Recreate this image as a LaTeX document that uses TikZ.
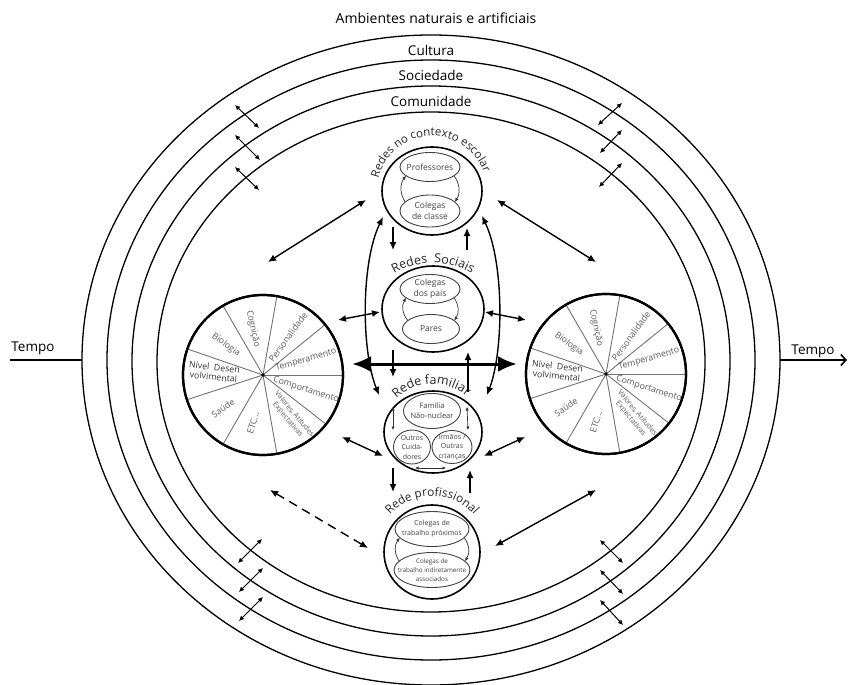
\documentclass[tikz,border=0pt]{standalone}
\usepackage{fontspec}
\setmainfont{Open Sans}
\usetikzlibrary{arrows.meta,shapes.geometric,calc}
\newdimen\arcw
\newcommand{\arcprep}[5]{%
  \gdef\arctot{0}%
  \foreach \ch in {#5}{%
    \settowidth{\arcw}{\fontsize{#4}{#4}\selectfont\ch}%
    \pgfmathsetmacro\arcwn{\the\arcw}%
    \pgfmathsetmacro\arctmp{\arctot+\arcwn}%
    \xdef\arctot{\arctmp}%
  }%
  \gdef\arccum{0}%
  \foreach \ch [count=\i] in {#5}{%
    \settowidth{\arcw}{\fontsize{#4}{#4}\selectfont\ch}%
    \pgfmathsetmacro\arcwn{\the\arcw}%
    \pgfmathsetmacro\arcang{#3 + (\arctot/2 - \arccum - \arcwn/2)/#2*180/pi}%
    \expandafter\xdef\csname arcang-#1-\i\endcsname{\arcang}%
    \pgfmathsetmacro\arctmp{\arccum+\arcwn}%
    \xdef\arccum{\arctmp}%
  }%
}
\newcommand{\arcplace}[5]{%
  \foreach \ch [count=\i] in {#5}{%
    \pgfmathsetmacro\arcang{\csname arcang-#1-\i\endcsname}%
    \node[inner sep=0pt, anchor=base, rotate=\arcang-90, text=black!85, font=\fontsize{#4}{#4}\selectfont] (#1-\i) at ($(#2)+(\arcang:#3pt)$) {\ch};
  }%
}
\begin{document}
\arcprep{lsc}{55}{93}{11.5}{R,e,d,e,s,\ ,n,o,\ ,c,o,n,t,e,x,t,o,\ ,e,s,c,o,l,a,r}%
\arcprep{lso}{77}{90}{12.5}{R,e,d,e,s,\ ,\ ,S,o,c,i,a,i,s}%
\arcprep{lfa}{53}{92}{12.5}{R,e,d,e,\ ,f,a,m,i,l,i,a,r}%
\arcprep{lpr}{56}{90}{11.8}{R,e,d,e,\ ,p,r,o,f,i,s,s,i,o,n,a,l}%
\begin{tikzpicture}[x=1pt,y=-1pt,
  ring/.style={draw, ellipse, line width=1.3pt, inner sep=0pt, outer sep=0pt},
  pie/.style={draw, circle, line width=2.2pt, minimum size=160pt, inner sep=0pt, outer sep=0pt},
  pieline/.style={draw=black!55, line width=0.9pt},
  pielabel/.style={font=\fontsize{8.8}{9.8}\selectfont, text=black!65, align=center, inner sep=0pt},
  hub/.style={draw, ellipse, line width=1.6pt, inner sep=0pt, outer sep=0pt},
  sub/.style={draw=black!75, ellipse, line width=0.9pt, inner sep=0pt, outer sep=0pt},
  sublabel/.style={text=black!75, align=center, inner sep=0pt},
  dbl/.style={{Latex[length=8pt,width=7pt]}-{Latex[length=8pt,width=7pt]}, line width=1.4pt},
  sgl/.style={-{Latex[length=8pt,width=7pt]}, line width=1.4pt},
  tinyarr/.style={{Latex[length=5pt,width=5pt]}-{Latex[length=5pt,width=5pt]}, line width=1pt},
  inarr/.style={-{Latex[length=4pt,width=3.5pt]}, line width=0.7pt, draw=black!80},
  indbl/.style={{Latex[length=3.5pt,width=3.5pt]}-{Latex[length=3.5pt,width=3.5pt]}, line width=0.7pt, draw=black!80},
  ringlabel/.style={font=\fontsize{13.5}{13.5}\selectfont, inner sep=0pt}
]
\useasboundingbox (0,0) rectangle (849,685);

% rings
\node[ring, minimum width=698pt, minimum height=650pt] (e1) at (431,360) {};
\node[ring, minimum width=648pt, minimum height=600pt] (e2) at (431,360) {};
\node[ring, minimum width=598pt, minimum height=550pt] (e3) at (431,361) {};
\node[ring, minimum width=548pt, minimum height=500pt] (e4) at (431,362) {};

\node[font=\fontsize{14}{14}\selectfont, inner sep=0pt] (amb) at (436,18) {Ambientes naturais e artificiais};
\node[ringlabel] (cul) at (431,50) {Cultura};
\node[ringlabel] (soc) at (431,75) {Sociedade};
\node[ringlabel] (com) at (431,101) {Comunidade};

% tempo
\coordinate (tl) at (10,360);
\coordinate (tr) at (847,360);
\draw[line width=1.6pt] (tl) -- (e1.west);
\draw[line width=1.6pt, -{Straight Barb[length=5pt,width=11pt]}] (e1.east) -- (tr);
\node[font=\fontsize{13.5}{13.5}\selectfont, inner sep=0pt] (tpl) at (33,348) {Tempo};
\node[font=\fontsize{13.5}{13.5}\selectfont, inner sep=0pt] (tpr) at (813,351) {Tempo};

% pies
\node[pie] (lp) at (263,375) {};
\node[pie] (rp) at (606,374) {};
\foreach \p in {lp,rp}{
  \foreach \a in {0,39,80,120,161,198,240,280,322}{
    \draw[pieline] (\p.center) -- (\p.\a);
  }
  \draw[line width=2.2pt] (\p) circle[radius=80pt];
  \fill (\p.center) circle[radius=1.8pt];
  \node[pielabel, rotate=-78] (\p-cog) at ($(\p.center)+(-10,-46)$) {Cognição};
  \node[pielabel, rotate=54] (\p-per) at ($(\p.center)+(25,-38)$) {Personalidade};
  \node[pielabel, rotate=16] (\p-tem) at ($(\p.center)+(43,-15)$) {Temperamento};
  \node[pielabel, rotate=-18] (\p-com) at ($(\p.center)+(43,15)$) {Comportamento};
  \node[pielabel, rotate=-50, font=\fontsize{7.3}{8.5}\selectfont] (\p-val) at ($(\p.center)+(28,42)$) {Valores, Atitudes\\Expectativas};
  \node[pielabel, rotate=72] (\p-etc) at ($(\p.center)+(-10,48)$) {ETC...};
  \node[pielabel, rotate=35] (\p-sau) at ($(\p.center)+(-40,33)$) {Saúde};
  \node[pielabel, rotate=-6, text=black!80] (\p-niv) at ($(\p.center)+(-49,-3)$) {Nível\ \ Desen\\volvimental};
  \node[pielabel, rotate=-36] (\p-bio) at ($(\p.center)+(-37,-30)$) {Biologia};
}

% hubs
\node[hub, minimum width=100pt, minimum height=88pt] (sc) at (432,191) {};
\node[hub, minimum width=102pt, minimum height=86pt] (so) at (433,309) {};
\node[hub, minimum width=98pt, minimum height=82pt] (fa) at (433,432) {};
\node[hub, minimum width=96pt, minimum height=94pt] (pr) at (432,552) {};

% sub ellipses
\node[sub, minimum width=60pt, minimum height=29pt] (sc1) at (430,167) {};
\node[sub, minimum width=60pt, minimum height=32pt] (sc2) at (430,211) {};
\node[sub, minimum width=60pt, minimum height=29pt] (so1) at (430,289) {};
\node[sub, minimum width=57pt, minimum height=29pt] (so2) at (431,329) {};
\node[sub, minimum width=57pt, minimum height=35pt] (fa1) at (432,411) {};
\node[sub, minimum width=37pt, minimum height=34pt] (fa2) at (412,447) {};
\node[sub, minimum width=40pt, minimum height=33pt] (fa3) at (452,447) {};
\node[sub, minimum width=74pt, minimum height=35pt] (pr1) at (432,529) {};
\node[sub, minimum width=76pt, minimum height=35pt] (pr2) at (432,570) {};

\node[sublabel, font=\fontsize{8.5}{10}\selectfont] (t-sc1) at (sc1) {Professores};
\node[sublabel, font=\fontsize{8.5}{10.5}\selectfont] (t-sc2) at (sc2) {Colegas\\de classe};
\node[sublabel, font=\fontsize{8.5}{10.5}\selectfont] (t-so1) at (so1) {Colegas\\dos pais};
\node[sublabel, font=\fontsize{8.5}{10}\selectfont] (t-so2) at (so2) {Pares};
\node[sublabel, font=\fontsize{7.5}{10}\selectfont] (t-fa1) at (fa1) {Família\\Não-nuclear};
\node[sublabel, font=\fontsize{7}{9.5}\selectfont] (t-fa2) at (fa2) {Outros\\Cuida-\\dores};
\node[sublabel, font=\fontsize{7}{9.5}\selectfont] (t-fa3) at (fa3) {Irmãos /\\Outras\\crianças};
\node[sublabel, font=\fontsize{7}{10}\selectfont] (t-pr1) at (pr1) {Colegas de\\trabalho próximos};
\node[sublabel, font=\fontsize{6.3}{9}\selectfont] (t-pr2) at (pr2) {Colegas de\\trabalho indiretamente\\associados};

% inner arrows
\draw[inarr] (sc2.160) to[bend left=35] (sc1.200);
\draw[inarr] (sc1.340) to[bend left=35] (sc2.20);
\draw[inarr] (so2.160) to[bend left=35] (so1.200);
\draw[inarr] (so1.340) to[bend left=35] (so2.20);
\draw[inarr] (pr2.165) to[bend left=35] (pr1.195);
\draw[inarr] (pr1.345) to[bend left=35] (pr2.15);
\draw[indbl] ($(fa1.center)+(-39,-4)$) -- ($(fa2.center)+(-19,-17)$);
\draw[indbl] ($(fa1.center)+(35,-4)$) -- ($(fa3.center)+(16,-17)$);
\draw[indbl] ($(fa2.center)+(3,21)$) -- ($(fa3.center)+(-6,21)$);

% arc labels
\coordinate (scc) at (432,191);
\coordinate (soc2) at (433,340);
\coordinate (fac) at (433,437);
\coordinate (prc) at (432,552);
\arcplace{lsc}{scc}{55}{11.5}{R,e,d,e,s,\ ,n,o,\ ,c,o,n,t,e,x,t,o,\ ,e,s,c,o,l,a,r}
\arcplace{lso}{soc2}{77}{12.5}{R,e,d,e,s,\ ,\ ,S,o,c,i,a,i,s}
\arcplace{lfa}{fac}{53}{12.5}{R,e,d,e,\ ,f,a,m,i,l,i,a,r}
\arcplace{lpr}{prc}{56}{11.8}{R,e,d,e,\ ,p,r,o,f,i,s,s,i,o,n,a,l}

% column arrows
\draw[sgl] ($(sc.center)+(-39,36)$) -- ($(so.center)+(-40,-59)$);
\draw[sgl] ($(so.center)+(34,-59)$) -- ($(sc.center)+(35,37)$);
\draw[sgl] ($(so.center)+(-40,41)$) -- ($(fa.center)+(-40,-55)$);
\draw[sgl] ($(fa.center)+(35,-40)$) -- ($(so.center)+(35,43)$);
\draw[sgl] ($(fa.center)+(-40,36)$) -- ($(pr.center)+(-39,-60)$);
\draw[sgl] ($(pr.center)+(38,-59)$) -- ($(fa.center)+(37,38)$);

% long curved double arrows
\draw[dbl] ($(sc.center)+(-49,26)$) .. controls (361,262) and (361,350) .. ($(fa.center)+(-54,-37)$);
\draw[dbl] ($(sc.center)+(50,25)$) .. controls (504,262) and (504,350) .. ($(fa.center)+(54,-37)$);

% big horizontal
\draw[line width=3pt, {Latex[length=19pt,width=16pt]}-{Latex[length=19pt,width=16pt]}] ($(lp.center)+(89,-11)$) -- ($(rp.center)+(-89,-10)$);

% pie to hub arrows
\coordinate (a1) at (268,262); \coordinate (a1b) at (366,200);
\coordinate (a2) at (596,262); \coordinate (a2b) at (497,200);
\coordinate (a3) at (338,320); \coordinate (a3b) at (380,312);
\coordinate (a4) at (526,320); \coordinate (a4b) at (485,312);
\coordinate (a5) at (342,437); \coordinate (a5b) at (383,456);
\coordinate (a6) at (525,437); \coordinate (a6b) at (484,456);
\coordinate (a7) at (270,490); \coordinate (a7b) at (368,548);
\coordinate (a8) at (596,490); \coordinate (a8b) at (495,546);
\draw[dbl] (a1) -- (a1b);
\draw[dbl] (a2) -- (a2b);
\draw[dbl] (a3) -- (a3b);
\draw[dbl] (a4) -- (a4b);
\draw[dbl] (a5) -- (a5b);
\draw[dbl] (a6) -- (a6b);
\draw[dbl, dash pattern=on 9pt off 6pt] (a7) -- (a7b);
\draw[dbl] (a8) -- (a8b);

% ring crossing arrows
\foreach \i/\xa/\ya/\xb/\yb in {
  1/235/105/259/128, 2/235/135/260/160, 3/235/167/259/190,
  4/622/103/598/125, 5/622/130/600/153, 6/622/163/599/187,
  7/238/563/262/539, 8/239/592/263/568, 9/239/621/263/597,
  10/600/540/623/563, 11/600/570/623/594, 12/600/600/623/625}{
  \coordinate (r\i a) at (\xa,\ya);
  \coordinate (r\i b) at (\xb,\yb);
  \draw[tinyarr] (r\i a) -- (r\i b);
}
\end{tikzpicture}
\end{document}
